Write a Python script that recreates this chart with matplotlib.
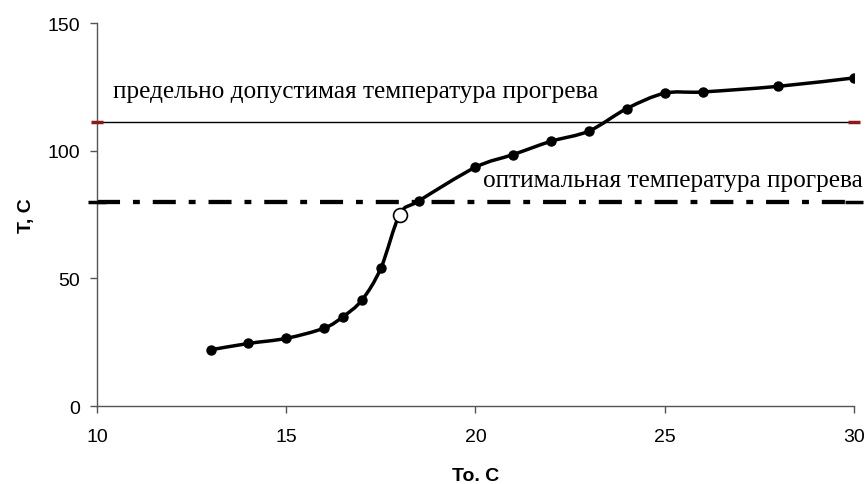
import numpy as np
import matplotlib.pyplot as plt
from matplotlib.path import Path
from matplotlib.patches import PathPatch

# measured heating curve
t_out = [13, 14, 15, 16, 16.5, 17, 17.5, 18, 18.5, 20, 21, 22, 23, 24, 25, 26, 28, 30]
t_in = [22, 24.5, 26.5, 30.5, 35, 41.5, 54, 75, 80.3, 93.5, 98.5, 103.7, 107.7, 116.5, 122.5, 123, 125.2, 128.5]
opt_x = 18       # point on the optimal line (open marker)
opt_y = 75

limit_temp = 111.2   # maximum allowed heating temperature
optimal_temp = 80    # optimal heating temperature
x_range = [10, 30]

limit_label = 'предельно допустимая температура прогрева'
optimal_label = 'оптимальная температура прогрева'


def smooth_path(x, y):
    # cubic bezier segments through the points (Excel-style smoothing)
    p = np.column_stack([x, y]).astype(float)
    n = len(p)
    verts = [p[0]]
    codes = [Path.MOVETO]
    for i in range(n - 1):
        p0 = p[i - 1] if i > 0 else p[i]
        p3 = p[i + 2] if i + 2 < n else p[i + 1]
        c1 = p[i] + (p[i + 1] - p0) / 6
        c2 = p[i + 1] - (p3 - p[i]) / 6
        verts += [c1, c2, p[i + 1]]
        codes += [Path.CURVE4] * 3
    return Path(verts, codes)


plt.rcParams['font.family'] = 'Liberation Sans'

fig = plt.figure(figsize=(8.68, 4.85), dpi=100)
ax = fig.add_axes([0.1118, 0.1608, 0.872, 0.7897])

ax.set_xlim(x_range)
ax.set_ylim(0, 150)

# reference lines
ax.plot(x_range, [limit_temp, limit_temp], color='black', lw=1.0, zorder=2)
ax.plot(x_range, [limit_temp, limit_temp], ls='none', marker='_', ms=8, mew=2.5,
        color='#8b1a1a', clip_on=False, zorder=3)
ax.plot(x_range, [optimal_temp, optimal_temp], color='black', lw=3.1,
        dashes=(5.35, 3.0, 1.6, 3.0), zorder=2)
ax.plot(x_range, [optimal_temp, optimal_temp], ls='none', marker='_', ms=13, mew=2.5,
        color='black', clip_on=False, zorder=3)

# smoothed curve with markers
ax.add_patch(PathPatch(smooth_path(t_out, t_in), fill=False, lw=2.5,
                       edgecolor='black', zorder=4))
pts_x = [v for v in t_out if v != opt_x]
pts_y = [t_in[i] for i, v in enumerate(t_out) if v != opt_x]
ax.plot(pts_x, pts_y, ls='none', marker='o', ms=6.5, color='black', zorder=5)
ax.plot([opt_x], [opt_y], ls='none', marker='o', ms=10, mfc='white',
        mec='black', mew=1.2, zorder=6)

ax.text(10.42, 123.4, limit_label, family='Liberation Serif', fontsize=18.2,
        va='center', ha='left')
ax.text(20.2, 88.5, optimal_label, family='Liberation Serif', fontsize=18.2,
        va='center', ha='left', clip_on=False)

ax.set_xticks([10, 15, 20, 25, 30])
ax.set_yticks([0, 50, 100, 150])
ax.tick_params(direction='out', length=5, width=1, color='#555555',
               labelsize=14)
ax.tick_params(axis='x', pad=11)
ax.tick_params(axis='y', pad=7)
for s in ['top', 'right']:
    ax.spines[s].set_visible(False)
for s in ['left', 'bottom']:
    ax.spines[s].set_color('#555555')
    ax.spines[s].set_linewidth(1)

ax.set_xlabel('To. C', fontsize=14, fontweight='bold', labelpad=16)
ax.set_ylabel('T, C', fontsize=14, fontweight='bold', labelpad=9)

fig.savefig('out.png', dpi=100)
